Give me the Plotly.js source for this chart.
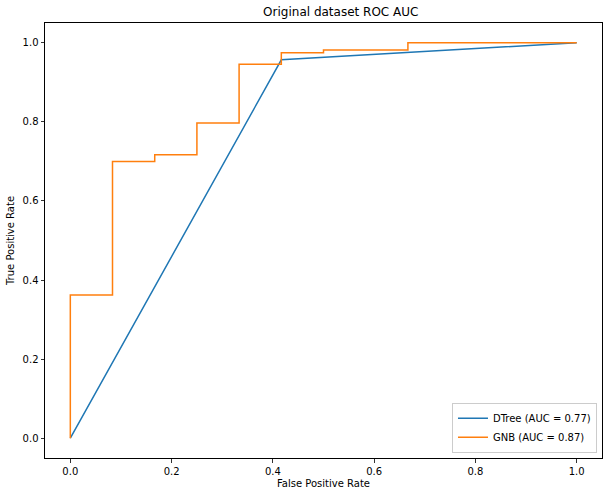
<!DOCTYPE html>
<html>
<head>
<meta charset="utf-8">
<script src="https://cdn.plot.ly/plotly-3.0.1.min.js"></script>
<style>html,body{margin:0;padding:0;background:#fff;}#chart{width:609px;height:496px;}</style>
</head>
<body>
<div id="chart"></div>
<script>
const dtreeName = "DTree (AUC = 0.77)";
const dtreeFpr = [0, 0.4167, 1];
const dtreeTpr = [0, 0.957, 1];

const gnbName = "GNB (AUC = 0.87)";
const gnbFpr = [0, 0, 0.0833, 0.0833, 0.1667, 0.1667, 0.25, 0.25, 0.3333, 0.3333, 0.4167, 0.4167, 0.5, 0.5, 0.6667, 0.6667, 1];
const gnbTpr = [0, 0.362, 0.362, 0.700, 0.700, 0.717, 0.717, 0.797, 0.797, 0.946, 0.946, 0.975, 0.975, 0.982, 0.982, 1.0, 1.0];

const tickVals = [0, 0.2, 0.4, 0.6, 0.8, 1.0];
const tickText = ["0.0", "0.2", "0.4", "0.6", "0.8", "1.0"];

const font = {family: "DejaVu Sans", size: 10, color: "#000"};

const traces = [
  {x: dtreeFpr, y: dtreeTpr, name: dtreeName, mode: "lines", line: {color: "#1f77b4", width: 1.5}},
  {x: gnbFpr, y: gnbTpr, name: gnbName, mode: "lines", line: {color: "#ff7f0e", width: 1.5}}
];

const axisCommon = {
  showgrid: false, zeroline: false, showline: true, mirror: true,
  linecolor: "#000", linewidth: 1, ticks: "outside", ticklen: 3.5, tickwidth: 0.8,
  tickcolor: "#000", tickfont: font, tickvals: tickVals, ticktext: tickText
};

const layout = {
  width: 609, height: 496,
  margin: {l: 45, r: 7, t: 23, b: 38},
  paper_bgcolor: "#fff", plot_bgcolor: "#fff",
  font: font,
  title: {text: "Original dataset ROC AUC", font: {family: "DejaVu Sans", size: 12, color: "#000"},
          x: 0.531, xref: "paper", xanchor: "center", y: 1 - 12/496, yref: "container", yanchor: "middle"},
  xaxis: Object.assign({}, axisCommon, {range: [-0.05, 1.05], title: {text: "False Positive Rate", font: font, standoff: 4}}),
  yaxis: Object.assign({}, axisCommon, {range: [-0.05, 1.05], title: {text: "True Positive Rate", font: font, standoff: 6}}),
  legend: {x: 0.991, y: 0.012, xanchor: "right", yanchor: "bottom", bgcolor: "rgba(255,255,255,0.8)",
           bordercolor: "#ccc", borderwidth: 1, font: font, tracegroupgap: 0},
  showlegend: true
};

Plotly.newPlot("chart", traces, layout, {displayModeBar: false, staticPlot: true});
</script>
</body>
</html>
